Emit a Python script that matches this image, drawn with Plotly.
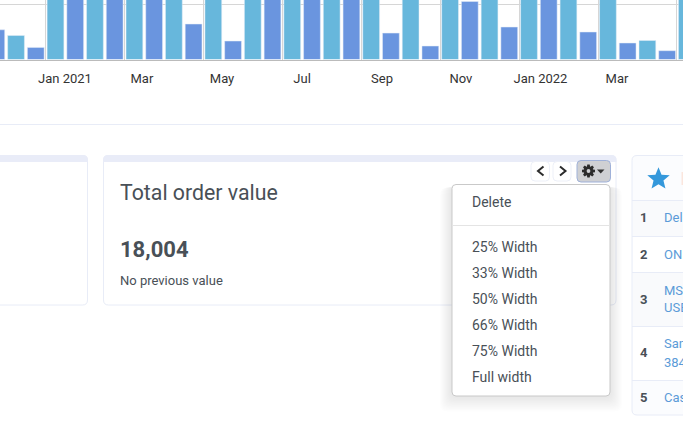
import math

import plotly.graph_objects as go

W = 683
H = 438

# half-month bars, the tall ones run off the top of the crop so those are guesses
first_half = [540, 220, 1500, 1450, 1500, 645, 336, 1500, 1500, 1450, 480, 245, 1055, 590, 1500, 500, 300, 160]
second_half = [436, 1500, 1500, 1500, 1500, 1500, 1450, 1500, 1500, 1500, 1500, 1500, 1500, 1500, 1500, 1500, 345, 1500]
tick_labels = ["Jan 2021", "Mar", "May", "Jul", "Sep", "Nov", "Jan 2022", "Mar"]
tick_slots = [3.48, 7.38, 11.44, 15.5, 19.55, 23.55, 27.58, 31.46]

menu_items = ["25% Width", "33% Width", "50% Width", "66% Width", "75% Width", "Full width"]
rank_labels = ["1", "2", "3", "4", "5"]
rank_rows = [["Del"], ["ONI"], ["MS", "USB"], ["San", "384"], ["Cas"]]

DARK = "#6a95df"
LIGHT = "#67b7dc"
BORDER = "#e8ecf7"
TEXT = "#495057"
LINK = "#5b9bd8"


def px(x):
    return x / W


def py(y):
    return 1 - y / H


def rrect(x0, y0, x1, y1, r=5, top=True, bottom=True):
    rt = r if top else 0
    rb = r if bottom else 0
    pts = [
        f"M{px(x0 + rt)},{py(y0)}",
        f"L{px(x1 - rt)},{py(y0)}",
        f"Q{px(x1)},{py(y0)} {px(x1)},{py(y0 + rt)}",
        f"L{px(x1)},{py(y1 - rb)}",
        f"Q{px(x1)},{py(y1)} {px(x1 - rb)},{py(y1)}",
        f"L{px(x0 + rb)},{py(y1)}",
        f"Q{px(x0)},{py(y1)} {px(x0)},{py(y1 - rb)}",
        f"L{px(x0)},{py(y0 + rt)}",
        f"Q{px(x0)},{py(y0)} {px(x0 + rt)},{py(y0)}",
        "Z",
    ]
    return "".join(pts)


def box(x0, y0, x1, y1, fill="white", line=None, r=5, top=True, bottom=True, width=1):
    return dict(type="path", xref="paper", yref="paper", path=rrect(x0, y0, x1, y1, r, top, bottom),
                fillcolor=fill, line=dict(color=line or "rgba(0,0,0,0)", width=width if line else 0))


def poly(points, fill="rgba(0,0,0,0)", line=None, width=2, close=True):
    path = "M" + "L".join(f"{px(x)},{py(y)}" for x, y in points) + ("Z" if close else "")
    return dict(type="path", xref="paper", yref="paper", path=path, fillcolor=fill,
                line=dict(color=line or "rgba(0,0,0,0)", width=width if line else 0))


def hline(x0, x1, y, color=BORDER):
    return dict(type="line", xref="paper", yref="paper", x0=px(x0), x1=px(x1), y0=py(y), y1=py(y),
                line=dict(color=color, width=1))


def label(text, x, y, size=14, color=TEXT, anchor="left", bold=False, family="Roboto"):
    if bold:
        text = f"<b>{text}</b>"
    # annotations carry about 2px of padding on the left
    if anchor == "left":
        x -= 2
    return dict(text=text, xref="paper", yref="paper", x=px(x), y=py(y), xanchor=anchor, yanchor="middle",
                showarrow=False, font=dict(family=family, size=size, color=color))


def gear(cx, cy, outer=6.6, inner=4.8, teeth=8):
    pts = []
    step = 2 * math.pi / teeth
    for k in range(teeth):
        a = k * step
        for off, rad in [(-0.3, inner), (-0.17, outer), (0.17, outer), (0.3, inner)]:
            pts.append((cx + rad * math.cos(a + off * step * 1.4), cy + rad * math.sin(a + off * step * 1.4)))
    return pts


fig = go.Figure()
first_x = list(range(0, 2 * len(first_half), 2))
second_x = list(range(1, 2 * len(second_half), 2))
fig.add_trace(go.Bar(x=first_x, y=first_half, marker_color=DARK, width=0.85))
fig.add_trace(go.Bar(x=second_x, y=second_half, marker_color=LIGHT, width=0.85))

shapes = [hline(0, W, 124.5)]

# left card, mostly off the page
shapes.append(box(-20, 155.5, 87.5, 305, line=BORDER))
shapes.append(box(-20, 155, 88, 162, fill="#e9ecf8", top=True, bottom=False))

# total order value card
shapes.append(box(103.5, 155.5, 616, 305, line=BORDER))
shapes.append(box(103, 155, 616.5, 162, fill="#e9ecf8", top=True, bottom=False))

# rank table on the right
shapes.append(box(632, 155.5, 720, 415, fill="#fbfcfe", line=BORDER))
for y0, y1, fill in [(201, 236, "#f9fafc"), (237, 272, "white"), (273, 326, "#f9fafc"), (327, 380, "white")]:
    shapes.append(dict(type="rect", xref="paper", yref="paper", x0=px(633), x1=px(W), y0=py(y0), y1=py(y1),
                       fillcolor=fill, line_width=0))
for y in [200.5, 236.5, 272.5, 326.5, 380.5]:
    shapes.append(hline(632, W, y))
star = []
for k in range(10):
    rad = 11.8 if k % 2 == 0 else 5.2
    ang = math.pi * k / 5
    star.append((658.5 + rad * math.sin(ang), 179 - rad * math.cos(ang)))
shapes.append(poly(star, fill="#3498db"))
shapes.append(dict(type="rect", xref="paper", yref="paper", x0=px(681.5), x1=px(W), y0=py(172), y1=py(185),
                   fillcolor="#fbe6dd", line_width=0))

# prev / next / gear buttons
shapes.append(box(531, 161.5, 549.5, 181, line="#edf0f8", r=4))
shapes.append(box(553, 161.5, 571, 181, line="#edf0f8", r=4))
shapes.append(box(577, 160.5, 610.5, 182, fill="#cfd0d3", line="#9fb1d9", r=4))
shapes.append(poly([(543.5, 166.5), (538, 171), (543.5, 175.5)], line="#2b2b2b", close=False))
shapes.append(poly([(560, 166.5), (565.5, 171), (560, 175.5)], line="#2b2b2b", close=False))
shapes.append(poly(gear(588.5, 171), fill="#2b2b2b"))
shapes.append(box(586.6, 169.1, 590.4, 172.9, fill="#cfd0d3", r=1.9))
shapes.append(poly([(597, 169.5), (604.5, 169.5), (600.7, 173.5)], fill="#333333"))

# dropdown with soft shadow
for grow in range(12, 0, -1):
    shapes.append(box(452 - grow * 1.0, 185 + grow * 0.2, 610 + grow * 1.0, 396 + grow * 1.3,
                      fill="rgba(0,0,0,0.009)", r=7))
shapes.append(box(452, 184.5, 610, 396, fill="white", line="#c9c9c9", r=4))
shapes.append(hline(452, 610, 225.5, "#e4e4e4"))

annotations = [
    label("Total order value", 120, 192, size=21.3),
    label("18,004", 120, 249, size=22, bold=True),
    label("No previous value", 120, 280, size=13),
    label("Delete", 472, 202),
]
for i, item in enumerate(menu_items):
    annotations.append(label(item, 472, 247 + 26 * i))

for rank, y in zip(rank_labels, [217, 254, 299, 352, 397]):
    annotations.append(label(rank, 643.5, y, size=13, anchor="center", bold=True))
for lines, ys in zip(rank_rows, [[217], [254], [290, 307], [343, 362], [397]]):
    for text, y in zip(lines, ys):
        annotations.append(label(text, 664, y, size=13, color=LINK))

fig.update_layout(
    width=W,
    height=H,
    margin=dict(l=0, r=0, t=0, b=0),
    paper_bgcolor="white",
    plot_bgcolor="white",
    barmode="overlay",
    showlegend=False,
    shapes=shapes,
    annotations=annotations,
    xaxis=dict(
        domain=[0, 1],
        range=[0.1875, 34.805],
        tickmode="array",
        tickvals=tick_slots,
        ticktext=tick_labels,
        ticks="outside",
        ticklen=7,
        tickcolor="rgba(0,0,0,0)",
        tickfont=dict(family="Roboto", size=13, color="#333333"),
        showgrid=False,
        zeroline=False,
        showline=True,
        linecolor="rgba(60,60,60,0.35)",
        linewidth=1,
        minor=dict(tick0=2.5, dtick=4, showgrid=True, gridcolor="#d6d6d6", gridwidth=1, ticks=""),
    ),
    yaxis=dict(
        domain=[py(59.5), 1],
        range=[0, 1082],
        tickvals=[0, 1000],
        showticklabels=False,
        showgrid=True,
        gridcolor="#d6d6d6",
        zeroline=False,
    ),
)

# page default margin would push the figure 8px in
fig.write_html("out.html", config=dict(displayModeBar=False),
               post_script="document.body.style.margin='0';document.documentElement.style.overflow='hidden';")
